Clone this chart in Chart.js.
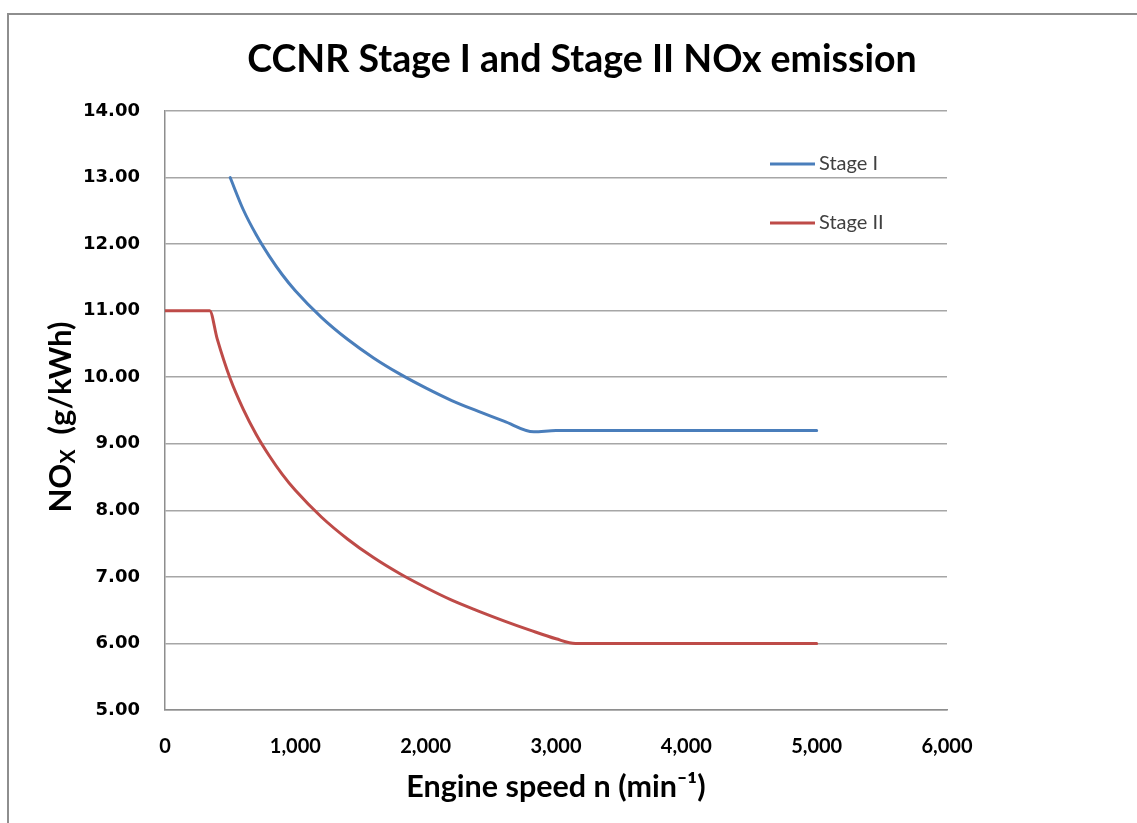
<!DOCTYPE html>
<html>
<head>
<meta charset="utf-8">
<script src="https://cdn.jsdelivr.net/npm/chart.js@4"></script>
<style>
  html, body { margin: 0; padding: 0; background: #fff; }
  #wrap { position: relative; width: 1137px; height: 823px; overflow: hidden; }
  #frame { position: absolute; left: 7px; top: 13px; width: 1200px; height: 900px;
           border-left: 2px solid #8e8e8e; border-top: 2px solid #8e8e8e; }
  canvas { position: absolute; left: 0; top: 0; }
</style>
</head>
<body>
<div id="wrap">
  <div id="frame"></div>
  <canvas id="myChart"></canvas>
</div>
<script>
const ctx = document.getElementById('myChart').getContext('2d')

const seriesNames = ['Stage I', 'Stage II']
const stage1Speed = [500, 600, 700, 800, 900, 1000, 1200, 1400, 1600, 1800, 2000, 2200, 2400, 2600, 2830, 3000, 5000]
const stage1NOx = [13.00, 12.52, 12.14, 11.82, 11.54, 11.30, 10.90, 10.57, 10.29, 10.05, 9.84, 9.65, 9.49, 9.34, 9.18, 9.20, 9.20]
const stage2Speed = [0, 343, 400, 500, 600, 700, 800, 900, 1000, 1200, 1400, 1600, 1800, 2000, 2200, 2400, 2600, 2800, 3000, 3150, 5000]
const stage2NOx = [11.00, 11.00, 10.58, 9.98, 9.52, 9.14, 8.82, 8.54, 8.30, 7.90, 7.57, 7.29, 7.05, 6.84, 6.65, 6.49, 6.34, 6.20, 6.07, 6.00, 6.00]
const colors = ['#4a7ebb', '#be4b48']

const toPoints = (xs, ys) => xs.map((x, i) => ({ x: x, y: ys[i] }))

const data = {
    datasets: [
        {
            label: seriesNames[0],
            data: toPoints(stage1Speed, stage1NOx),
            borderColor: colors[0],
            backgroundColor: colors[0],
        },
        {
            label: seriesNames[1],
            data: toPoints(stage2Speed, stage2NOx),
            borderColor: colors[1],
            backgroundColor: colors[1],
        }
    ]
}

// legend sits inside the plot, top right, like the excel one
const insideLegend = {
    id: 'insideLegend',
    afterDatasetsDraw(chart) {
        const c = chart.ctx
        const area = chart.chartArea
        c.save()
        chart.data.datasets.forEach((ds, i) => {
            const y = area.top + 53 + i * 59
            c.strokeStyle = ds.borderColor
            c.lineWidth = 3
            c.beginPath()
            c.moveTo(area.right - 177, y)
            c.lineTo(area.right - 132, y)
            c.stroke()
            c.fillStyle = '#404040'
            c.font = '20px Lato'
            c.textBaseline = 'middle'
            c.fillText(ds.label, area.right - 128, y)
        })
        c.restore()
    }
}

// y title with the subscript X
const yTitle = {
    id: 'yTitle',
    afterDraw(chart) {
        const c = chart.ctx
        c.save()
        c.translate(61, 417)
        c.rotate(-Math.PI / 2)
        c.fillStyle = '#000'
        c.textBaseline = 'middle'
        const big = 'bold 31px Lato'
        const small = 'bold 21px Lato'
        const parts = [['NO', big, 0], ['X', small, 7], ['  (g/kWh)', big, 0]]
        let w = 0
        parts.forEach(p => { c.font = p[1]; w += c.measureText(p[0]).width })
        let x = -w / 2
        parts.forEach(p => {
            c.font = p[1]
            c.fillText(p[0], x, p[2])
            x += c.measureText(p[0]).width
        })
        c.restore()
    }
}

const config = {
    type: 'line',
    data: data,
    options: {
        responsive: true,
        maintainAspectRatio: false,
        animation: false,
        layout: { padding: { left: 27, top: 0, bottom: 0, right: 0 } },
        elements: {
            point: { radius: 0 },
            line: { borderWidth: 3, cubicInterpolationMode: 'monotone', borderCapStyle: 'round' }
        },
        plugins: {
            legend: { display: false },
            tooltip: { enabled: false },
            title: {
                display: true,
                text: 'CCNR Stage I and Stage II NOx emission',
                color: '#000',
                font: { family: 'Lato', size: 37.5, weight: 'bold', lineHeight: 1.2 },
                padding: { top: 37, bottom: 29 },
            }
        },
        scales: {
            x: {
                type: 'linear',
                min: 0,
                max: 6000,
                ticks: {
                    stepSize: 1000,
                    color: '#000',
                    padding: 25,
                    font: { family: 'Lato', size: 20, weight: 'bold' },
                    maxRotation: 0,
                },
                grid: { display: false, drawTicks: false },
                border: { display: true, color: '#8e8e8e', width: 1.5 },
                title: {
                    display: true,
                    text: 'Engine speed n (min⁻¹)',
                    color: '#000',
                    font: { family: 'Lato', size: 30.5, weight: 'bold', lineHeight: 1.2 },
                    padding: { top: 18, bottom: 18 },
                },
                afterFit(scale) {
                    scale.height = 113
                    scale.paddingLeft = 0
                    scale.paddingRight = 190
                }
            },
            y: {
                min: 5,
                max: 14,
                ticks: {
                    stepSize: 1,
                    color: '#000',
                    padding: 25,
                    font: { family: 'DejaVu Sans', size: 18, weight: 'bold' },
                    callback: (v) => v.toFixed(2),
                },
                grid: { color: '#a6a6a6', lineWidth: 1.5, drawTicks: false },
                border: { display: true, color: '#8e8e8e', width: 1.5 },
                afterFit(scale) { scale.width = 138 }
            }
        }
    },
    plugins: [insideLegend, yTitle]
}

const myChart = new Chart(ctx, config)
</script>
</body>
</html>
